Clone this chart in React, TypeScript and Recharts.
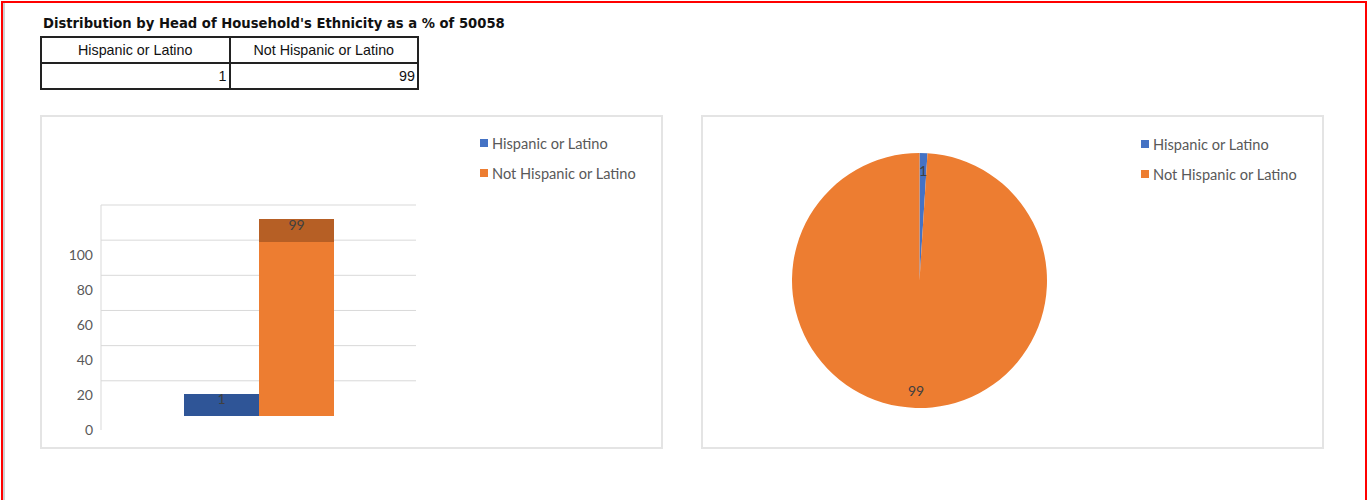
import { BarChart, Bar, XAxis, YAxis, CartesianGrid, LabelList, PieChart, Pie, Cell } from "recharts";

const title = "Distribution by Head of Household's Ethnicity as a % of 50058";
const seriesNames = ["Hispanic or Latino", "Not Hispanic or Latino"];
const tableValues = [1, 99];
// bar heights as drawn in the picture (the column chart renders them taller than the values)
const barHeights = [12.5, 99];
const barOverflow = [0, 13];
const yTicks = [0, 20, 40, 60, 80, 100];
const gridValues = [20, 40, 60, 80, 100, 120];

const pieColors = ["#4472C4", "#ED7D31"];
const barColors = ["#2F5597", "#ED7D31"];
const overflowColor = "#B65F25";
const labelFont = "Lato, 'Open Sans', sans-serif";

const barData = [
  {
    name: "Ethnicity",
    hispanic: barHeights[0],
    notHispanic: barHeights[1],
    notHispanicTop: barOverflow[1],
    hispanicLabel: String(tableValues[0]),
    notHispanicLabel: String(tableValues[1]),
  },
];

const pieData = seriesNames.map((name, i) => ({ name, value: tableValues[i] }));

const YTick = (props: any) => {
  const { x, y, payload } = props;
  return (
    <text x={x} y={y + 14} textAnchor="end" dominantBaseline="central" fill="#595959" fontSize={14} fontFamily={labelFont}>
      {payload.value}
    </text>
  );
};

const BarTopLabel = (props: any) => {
  const { x, y, width, value } = props;
  return (
    <text x={x + width / 2} y={y + 5} textAnchor="middle" dominantBaseline="central" fill="#404040" fontSize={14} fontFamily={labelFont}>
      {value}
    </text>
  );
};

const RADIAN = Math.PI / 180;
const PieLabel = (props: any) => {
  const { cx, cy, midAngle, outerRadius, value } = props;
  const r = outerRadius * 0.86;
  const x = cx + r * Math.cos(-midAngle * RADIAN);
  const y = cy + r * Math.sin(-midAngle * RADIAN);
  return (
    <text x={x} y={y} textAnchor="middle" dominantBaseline="central" fill="#404040" fontSize={14} fontFamily={labelFont}>
      {value}
    </text>
  );
};

function Legend({ colors, left, top }: { colors: string[]; left: number; top: number }) {
  return (
    <div style={{ position: "absolute", left, top, fontFamily: labelFont, fontSize: 14.6, color: "#595959" }}>
      {seriesNames.map((n, i) => (
        <div key={n} style={{ display: "flex", alignItems: "center", height: 30 }}>
          <span style={{ width: 8, height: 8, background: colors[i], marginRight: 4 }} />
          <span>{n}</span>
        </div>
      ))}
    </div>
  );
}

const card = (left: number): React.CSSProperties => ({
  position: "absolute",
  left,
  top: 115,
  width: 623,
  height: 334,
  boxSizing: "border-box",
  border: "2px solid #e4e4e4",
  background: "#fff",
});

const cellStyle: React.CSSProperties = {
  border: "2px solid #222",
  padding: "0 2px",
  height: 24,
  fontFamily: "Tahoma, 'Liberation Sans', sans-serif",
  fontSize: 14.3,
  color: "#111",
};

export default function App() {
  return (
    <div style={{ position: "absolute", left: 0, top: 0, width: 1368, height: 500, background: "#fff", overflow: "hidden" }}>
      <div style={{ position: "absolute", left: 1, top: 1, width: 1366, height: 620, boxSizing: "border-box", border: "2px solid #ff0000" }} />
      <div style={{ position: "absolute", left: 3, top: 3, width: 2, height: 600, background: "#d0d0d0" }} />

      <div style={{ position: "absolute", left: 43, top: 16, fontFamily: "'DejaVu Sans', Verdana, sans-serif", fontWeight: "bold", fontSize: 13.2, color: "#111", whiteSpace: "nowrap" }}>
        {title}
      </div>
      <table style={{ position: "absolute", left: 40, top: 36, borderCollapse: "collapse", width: 379 }}>
        <tbody>
          <tr>
            {seriesNames.map((n) => (
              <td key={n} style={{ ...cellStyle, width: 189, textAlign: "center" }}>{n}</td>
            ))}
          </tr>
          <tr>
            {tableValues.map((v, i) => (
              <td key={i} style={{ ...cellStyle, textAlign: "right" }}>{v}</td>
            ))}
          </tr>
        </tbody>
      </table>

      <div style={card(40)} />
      <div style={{ position: "absolute", left: 40, top: 115 }}>
        <BarChart width={623} height={334} data={barData} margin={{ top: 90, right: 247, bottom: 19, left: 11 }} barGap={0} barSize={75}>
          <CartesianGrid vertical={false} stroke="#d9d9d9" horizontalValues={gridValues} />
          <XAxis dataKey="name" hide />
          <YAxis
            width={50}
            domain={[-8, 120]}
            ticks={yTicks}
            tick={<YTick />}
            tickLine={false}
            axisLine={{ stroke: "#d9d9d9" }}
            allowDataOverflow
          />
          <Bar dataKey="hispanic" stackId="a" fill={barColors[0]} isAnimationActive={false}>
            <LabelList dataKey="hispanicLabel" content={<BarTopLabel />} />
          </Bar>
          <Bar dataKey="notHispanic" stackId="b" fill={barColors[1]} isAnimationActive={false} />
          <Bar dataKey="notHispanicTop" stackId="b" fill={overflowColor} isAnimationActive={false}>
            <LabelList dataKey="notHispanicLabel" content={<BarTopLabel />} />
          </Bar>
        </BarChart>
      </div>
      <Legend colors={pieColors} left={480} top={128} />

      <div style={card(701)} />
      <div style={{ position: "absolute", left: 701, top: 115 }}>
        <PieChart width={623} height={334} margin={{ top: 0, right: 0, bottom: 0, left: 0 }}>
          <Pie
            data={pieData}
            dataKey="value"
            cx={218.5}
            cy={165.5}
            outerRadius={127.5}
            startAngle={90}
            endAngle={-270}
            stroke="none"
            label={<PieLabel />}
            labelLine={false}
            isAnimationActive={false}
          >
            {pieData.map((d, i) => (
              <Cell key={d.name} fill={pieColors[i]} />
            ))}
          </Pie>
        </PieChart>
      </div>
      <Legend colors={pieColors} left={1141} top={129} />
    </div>
  );
}
